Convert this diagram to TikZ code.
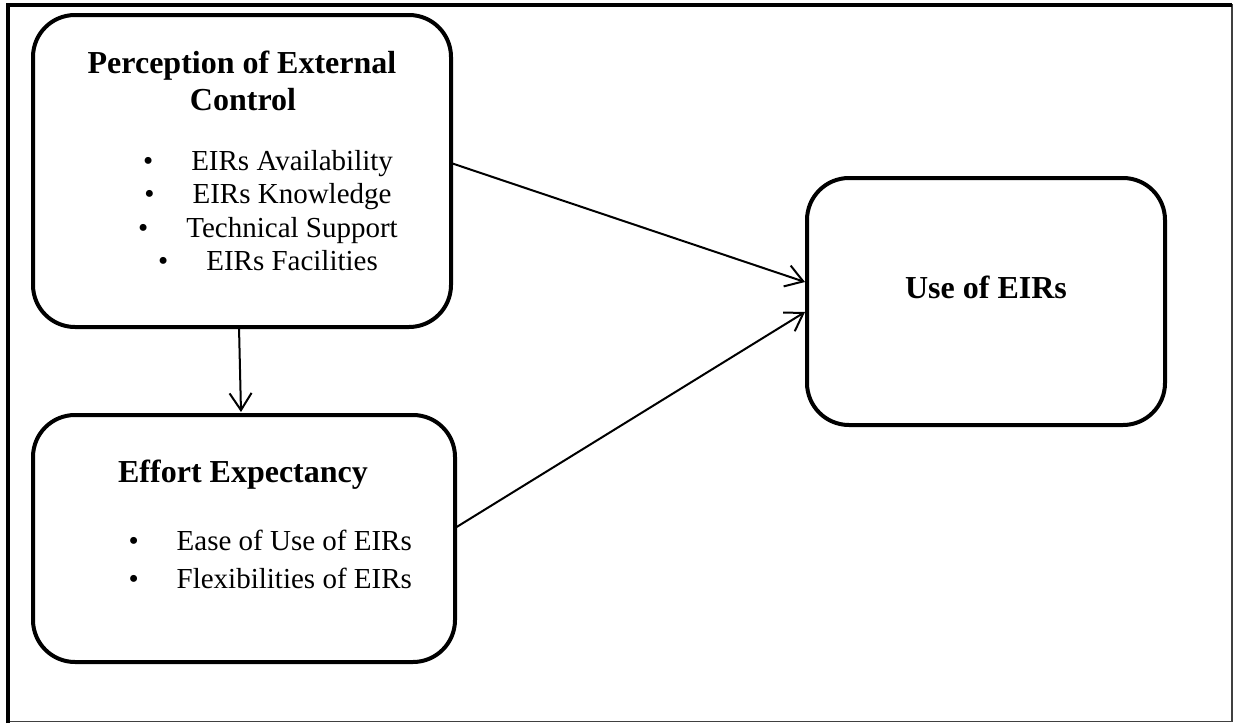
\documentclass[tikz,border=0pt]{standalone}
\usepackage{fontspec}
\setmainfont{Liberation Serif}
\usetikzlibrary{arrows.meta,calc}

\begin{document}
\begin{tikzpicture}[
    x=1pt,y=-1pt,
    stage/.style={draw=black,line width=4pt,rounded corners=42pt,outer sep=0pt,inner sep=0pt},
    heading/.style={anchor=base,font=\fontsize{32}{37}\selectfont\bfseries},
    item/.style={anchor=base,font=\fontsize{29}{33}\selectfont},
    link/.style={-{Straight Barb[length=17pt,width=22pt,line width=2pt]},line width=2pt}
  ]
    \useasboundingbox (0,0) rectangle (1234,723);
    % outer frame
    \draw[line width=1.2pt,black!75] (8,5) rectangle (1232,721.5);
    \draw[line width=4pt] (8,723) -- (8,5) -- (1232,5);
    % boxes
    \node[stage,minimum width=418pt,minimum height=312pt] (pec) at (242,171) {};
    \node[stage,minimum width=422pt,minimum height=247pt] (eff) at (244,538.5) {};
    \node[stage,minimum width=358pt,minimum height=247pt] (use) at (986,301.5) {};
    % texts
    \node[heading] (pectop) at (242,73) {Perception of External};
    \node[heading] (pecbot) at (243,110) {Control};
    \foreach \y/\t [count=\i] in {170/EIRs Availability,203.5/EIRs Knowledge,
        237/Technical Support,270.5/EIRs Facilities}
      \node[item] (pec\i) at (268,\y) {\textbullet\hspace{38pt}\t};
    \node[heading] (efftop) at (243,482) {Effort Expectancy};
    \node[item,anchor=base west] (eff1) at (125,550) {\textbullet\hspace{38pt}Ease of Use of EIRs};
    \node[item,anchor=base west] (eff2) at (125,588) {\textbullet\hspace{38pt}Flexibilities of EIRs};
    \node[heading] (usetop) at (986,298) {Use of EIRs};
    % links
    \draw[link] ($(pec.east)+(0,-8)$) -- ($(use.west)+(-2,-19.5)$);
    \draw[link] ($(eff.east)+(0,-10.5)$) -- ($(use.west)+(-2,10.5)$);
    \draw[link] ($(pec.south)+(-3,0)$) -- ($(eff.north)+(-3,-3)$);
  \end{tikzpicture}
\end{document}
